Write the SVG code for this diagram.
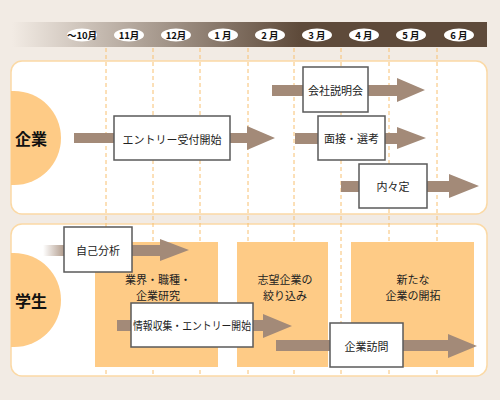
<svg xmlns="http://www.w3.org/2000/svg" width="500" height="400" viewBox="0 0 500 400">
<defs>
<linearGradient id="hdr" x1="12" y1="0" x2="300" y2="0" gradientUnits="userSpaceOnUse">
<stop offset="0" stop-color="#f2ebe4"/>
<stop offset="1" stop-color="#5e4a3a"/>
</linearGradient>
<linearGradient id="fade" x1="43" y1="0" x2="68" y2="0" gradientUnits="userSpaceOnUse">
<stop offset="0" stop-color="#a38a78" stop-opacity="0"/>
<stop offset="1" stop-color="#a38a78"/>
</linearGradient>
<clipPath id="c1"><rect x="11" y="61" width="476" height="153" rx="11"/></clipPath>
<clipPath id="c2"><rect x="11" y="224" width="476" height="152" rx="11"/></clipPath>
</defs>
<style>
.panel{fill:#fff;stroke:#fbd9a5;stroke-width:1.5}
.semi{fill:#fecb86}
.blk{fill:#fecb86}
.dash{stroke:#f8c070;stroke-width:1;stroke-dasharray:4 3}
.arr{fill:#a38a78}
.box{fill:#fff;stroke:#5a5a5a;stroke-width:1.5}
.t{font-family:"Noto Sans CJK JP","Noto Sans",sans-serif;font-size:11px;fill:#222;text-anchor:middle;dominant-baseline:central}
.big{font-family:"Noto Sans CJK JP","Noto Sans",sans-serif;font-size:16px;font-weight:bold;fill:#111;text-anchor:middle;dominant-baseline:central}
.m{font-family:"Noto Sans CJK JP","Liberation Sans",sans-serif;font-size:9.5px;font-weight:bold;fill:#111;text-anchor:middle;dominant-baseline:central}
</style>
<rect width="500" height="400" fill="#f2ebe4"/>
<g id="header">
<rect x="12" y="22" width="475" height="25" fill="url(#hdr)"/>
<g fill="#fff">
<ellipse cx="82" cy="35" rx="15" ry="6.5"/>
<ellipse cx="129" cy="35" rx="15" ry="6.5"/>
<ellipse cx="176" cy="35" rx="15" ry="6.5"/>
<ellipse cx="223" cy="35" rx="15" ry="6.5"/>
<ellipse cx="270" cy="35" rx="15" ry="6.5"/>
<ellipse cx="317" cy="35" rx="15" ry="6.5"/>
<ellipse cx="364" cy="35" rx="15" ry="6.5"/>
<ellipse cx="411" cy="35" rx="15" ry="6.5"/>
<ellipse cx="459" cy="35" rx="15" ry="6.5"/>
</g>
<text class="m" x="82" y="35">～10月</text>
<text class="m" x="129" y="35">11月</text>
<text class="m" x="176" y="35">12月</text>
<text class="m" x="223" y="35">1 月</text>
<text class="m" x="270" y="35">2 月</text>
<text class="m" x="317" y="35">3 月</text>
<text class="m" x="364" y="35">4 月</text>
<text class="m" x="411" y="35">5 月</text>
<text class="m" x="459" y="35">6 月</text>
</g>
<g id="panel-kigyo">
<rect class="panel" x="11" y="61" width="476" height="153" rx="11"/>
<circle class="semi" cx="14" cy="138" r="47" clip-path="url(#c1)"/>
<text class="big" x="31" y="138">企業</text>
</g>
<g id="panel-gakusei">
<rect class="panel" x="11" y="224" width="476" height="152" rx="11"/>
<circle class="semi" cx="14" cy="300" r="47" clip-path="url(#c2)"/>
<text class="big" x="31" y="300">学生</text>
</g>
<g id="gridlines">
<line class="dash" x1="106" y1="48" x2="106" y2="377"/>
<line class="dash" x1="153" y1="48" x2="153" y2="377"/>
<line class="dash" x1="200" y1="48" x2="200" y2="377"/>
<line class="dash" x1="248" y1="48" x2="248" y2="377"/>
<line class="dash" x1="294" y1="48" x2="294" y2="377"/>
<line class="dash" x1="341" y1="48" x2="341" y2="377"/>
<line class="dash" x1="389" y1="48" x2="389" y2="377"/>
<line class="dash" x1="437" y1="48" x2="437" y2="377"/>
</g>
<g id="phase1">
<rect class="blk" x="95" y="242" width="123" height="125"/>
<text class="t" x="158" y="279">業界・職種・</text>
<text class="t" x="158" y="295">企業研究</text>
</g>
<g id="phase2">
<rect class="blk" x="237" y="242" width="91" height="125"/>
<text class="t" x="285" y="279">志望企業の</text>
<text class="t" x="285" y="295">絞り込み</text>
</g>
<g id="phase3">
<rect class="blk" x="351" y="242" width="123" height="125"/>
<text class="t" x="413" y="279">新たな</text>
<text class="t" x="413" y="295">企業の開拓</text>
</g>
<g id="connectors">
<polygon class="arr" points="74,133 247,133 247,126 275,138 247,150 247,143 74,143"/>
<polygon class="arr" points="272,85 397,85 397,78 425,90 397,102 397,96 272,96"/>
<polygon class="arr" points="295,133 397,133 397,127 426,138 397,149 397,144 295,144"/>
<polygon class="arr" points="341,181 449,181 449,174 479,186 449,198 449,192 341,192"/>
<rect x="43" y="245" width="120" height="11" fill="url(#fade)"/>
<polygon class="arr" points="65,245 160,245 160,239 189,250 160,261 160,256 65,256"/>
<polygon class="arr" points="117,320 263,320 263,314 292,326 263,338 263,331 117,331"/>
<polygon class="arr" points="276,340 448,340 448,334 477,346 448,358 448,351 276,351"/>
</g>
<g id="entry">
<rect class="box" x="114" y="116" width="116" height="44"/>
<text class="t" x="172" y="139">エントリー受付開始</text>
</g>
<g id="setsumeikai">
<rect class="box" x="303" y="67" width="65" height="45"/>
<text class="t" x="335.5" y="90">会社説明会</text>
</g>
<g id="mensetsu">
<rect class="box" x="318" y="116" width="67" height="44"/>
<text class="t" x="351.5" y="138">面接・選考</text>
</g>
<g id="naiteinai">
<rect class="box" x="359" y="164" width="68" height="44"/>
<text class="t" x="393" y="186">内々定</text>
</g>
<g id="jiko">
<rect class="box" x="64" y="227" width="68" height="45"/>
<text class="t" x="98" y="250">自己分析</text>
</g>
<g id="joho">
<rect class="box" x="131" y="303" width="122" height="44"/>
<text class="t" x="192" y="325" textLength="118" lengthAdjust="spacingAndGlyphs">情報収集・エントリー開始</text>
</g>
<g id="homon">
<rect class="box" x="330" y="323" width="73" height="44"/>
<text class="t" x="366.5" y="346">企業訪問</text>
</g>
</svg>
